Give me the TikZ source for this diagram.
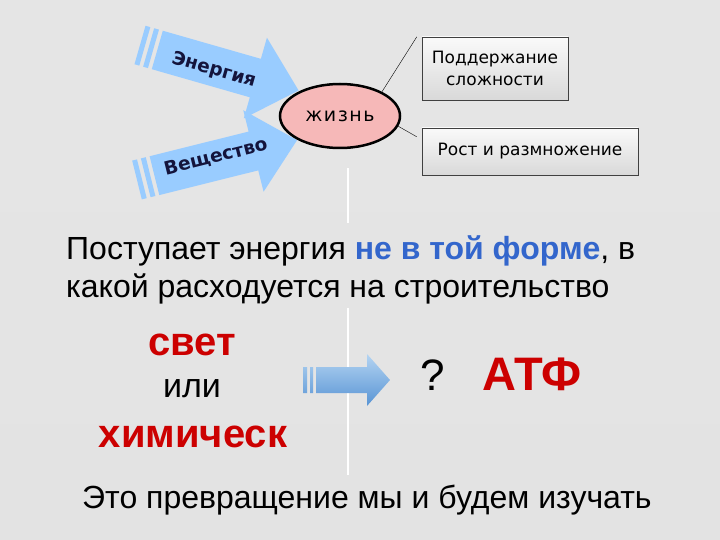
\documentclass[tikz,border=0pt]{standalone}
\usepackage{fontspec}
\setmainfont{Liberation Sans}
\newfontfamily\dejavu{DejaVu Sans}
\newfontfamily\dejavuwide[LetterSpace=8]{DejaVu Sans}
\usetikzlibrary{shapes.geometric}
\definecolor{flowblue}{RGB}{153,204,255}
\definecolor{navytext}{RGB}{20,20,60}
\definecolor{formblue}{RGB}{51,102,204}
\definecolor{darkred}{RGB}{204,0,0}
\definecolor{lifepink}{RGB}{246,184,184}
\tikzset{
  flowarrow/.style={fill=flowblue},
  flowlabel/.style={font=\dejavu\bfseries\fontsize{18.5}{18.5}\selectfont, text=navytext, transform shape, inner sep=0pt},
  infobox/.style={draw=black!75, top color=gray!4, bottom color=gray!30, font=\dejavu\fontsize{17}{22}\selectfont, align=center, inner sep=0pt},
  gapline/.style={draw=gray!80, double=white, double distance=1.2pt, line width=0.5pt},
  bigtext/.style={font=\fontsize{32}{38}\selectfont, anchor=base west, inner sep=0pt},
  redword/.style={font=\bfseries\fontsize{40}{40}\selectfont, text=darkred, anchor=base},
}
\begin{document}
\begin{tikzpicture}[x=1pt, y=-1pt]
\useasboundingbox (0,0) rectangle (720,540);
\shade[top color=gray!20, middle color=gray!3, bottom color=gray!22] (0,0) rectangle (720,540);

% two incoming arrows
\begin{scope}[shift={(140,45)}, rotate=-16]
\fill[flowarrow] (0,-20) rectangle (5,20) (9,-20) rectangle (14,20)
  (18,-20) -- (120,-20) -- (120,-42) -- (165,0) -- (120,42) -- (120,20) -- (18,20) -- cycle;
\node[flowlabel] (energy) at (78,4) {Энергия};
\end{scope}
\begin{scope}[shift={(137,180)}, rotate=14]
\fill[flowarrow] (0,-20) rectangle (5,20) (9,-20) rectangle (14,20)
  (18,-20) -- (120,-20) -- (120,-42) -- (165,0) -- (120,42) -- (120,20) -- (18,20) -- cycle;
\node[flowlabel] (matter) at (82,-3) {Вещество};
\end{scope}

\node[ellipse, draw, line width=2.5pt, fill=lifepink, minimum width=120, minimum height=64,
  font=\dejavuwide\fontsize{19}{19}\selectfont] (life) at (340,116) {жизнь};
\node[infobox, minimum width=146, minimum height=63] (pod) at (495,68.5) {Поддержание\\сложности};
\node[infobox, minimum width=216, minimum height=47] (rost) at (530,151.5) {Рост и размножение};
\draw (life.30) -- ([xshift=-5pt]pod.north west);
\draw (life.-10) -- ([shift={(-5pt,-9pt)}]rost.north west);

\draw[gapline] (348,168) -- (348,223);
\draw[gapline] (348,308) -- (348,475);

\node[bigtext] (line1) at (66,259) {Поступает энергия {\bfseries\color{formblue}не в той форме}, в};
\node[bigtext] (line2) at (66,297) {какой расходуется на строительство};

\node[redword] (light) at (192,355) {свет};
\node[font=\fontsize{34}{34}\selectfont, anchor=base] (or) at (192,397) {или};
\node[redword] (chem) at (193,447) {химическ};

% conversion arrow
\begin{scope}[shift={(303,380)}]
\shade[top color={rgb,255:red,180;green,212;blue,242}, bottom color={rgb,255:red,88;green,148;blue,212}]
  (0,-13) rectangle (4,13) (7,-13) rectangle (10,13)
  (13,-13) -- (64,-13) -- (64,-26) -- (87,0) -- (64,26) -- (64,13) -- (13,13) -- cycle;
\end{scope}
\node[font=\fontsize{44}{44}\selectfont, anchor=base] (query) at (433,390) {?};
\node[font=\bfseries\fontsize{47}{47}\selectfont, text=darkred, anchor=base] (atp) at (532,390) {АТФ};

\node[bigtext] (study) at (82,508) {Это превращение мы и будем изучать};
\end{tikzpicture}
\end{document}
